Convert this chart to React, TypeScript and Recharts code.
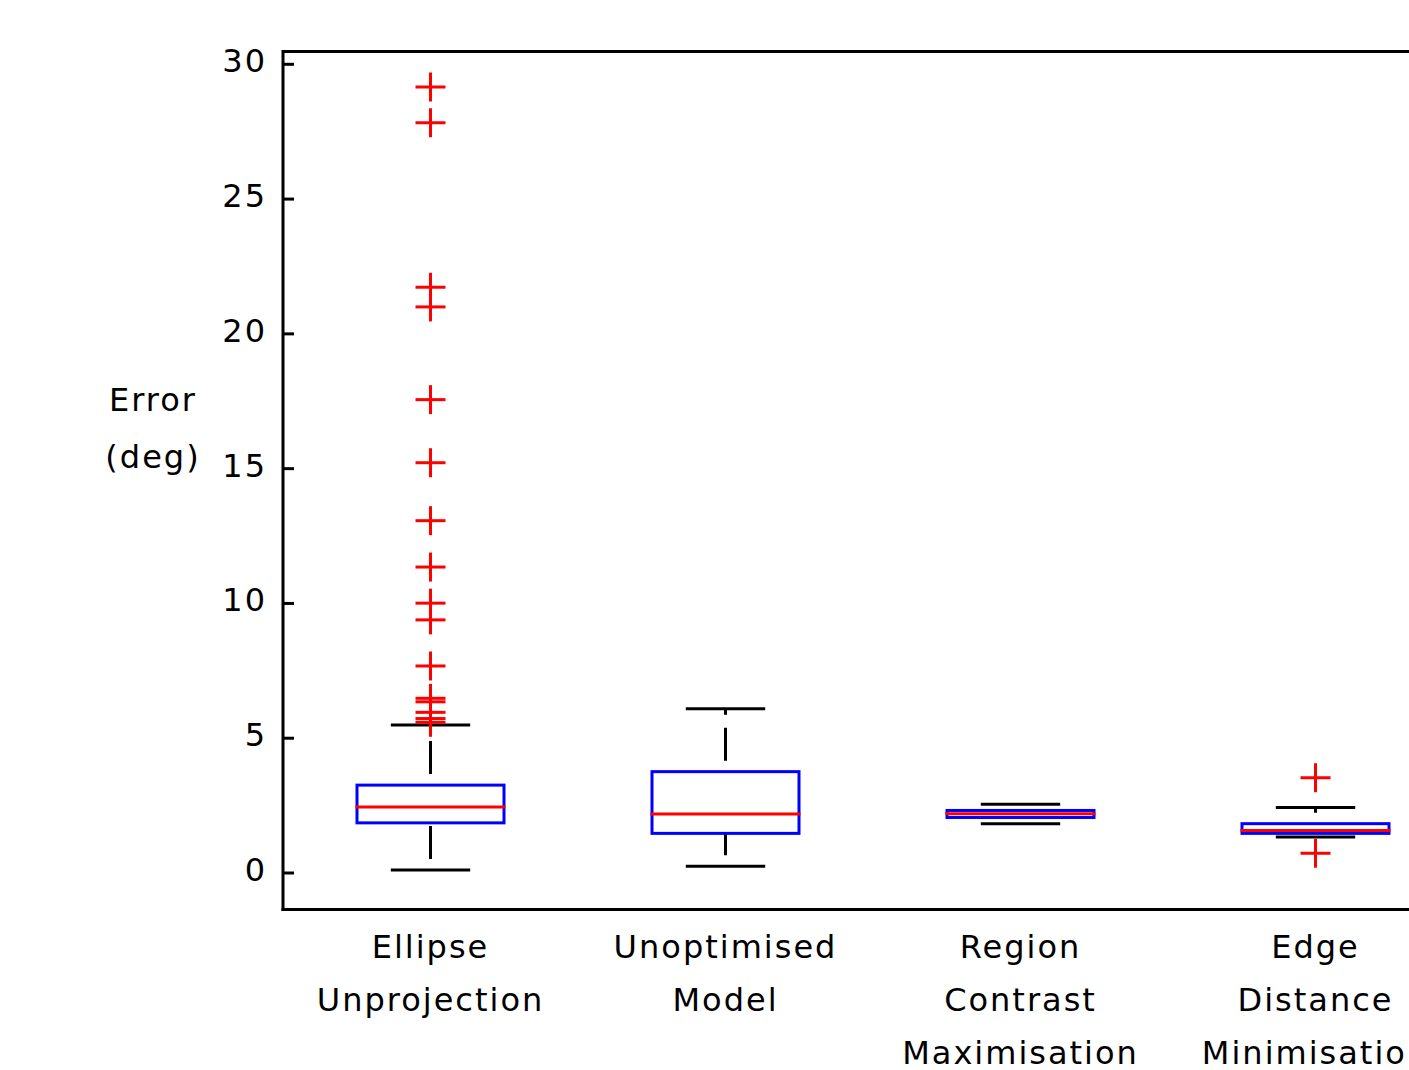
import React from 'react';
import {
    ComposedChart,
    Bar,
    Scatter,
    XAxis,
    YAxis,
    Label,
    ReferenceLine
} from 'recharts';

// categories, one entry per box
const categories = [
    'Ellipse Unprojection',
    'Unoptimised Model',
    'Region Contrast Maximisation',
    'Edge Distance Minimisation'
];
const categoryLines = [
    ['Ellipse', 'Unprojection'],
    ['Unoptimised', 'Model'],
    ['Region', 'Contrast', 'Maximisation'],
    ['Edge', 'Distance', 'Minimisation']
];

// box statistics (deg)
const lowerWhisker = [0.11, 0.25, 1.83, 1.34];
const lowerQuartile = [1.86, 1.47, 2.06, 1.47];
const medians = [2.45, 2.19, 2.2, 1.58];
const upperQuartile = [3.26, 3.76, 2.32, 1.83];
const upperWhisker = [5.49, 6.09, 2.55, 2.43];

// outliers per category
const outliers = [
    [29.16, 27.83, 21.73, 21.0, 17.56, 15.22, 13.07, 11.35, 10.01, 9.39, 7.68, 6.48, 6.35, 5.96, 5.73, 5.59],
    [],
    [],
    [3.53, 0.73]
];

const yTicks = [0, 5, 10, 15, 20, 25, 30];
const yDomain = [-1.354, 30.475];

const boxData = categories.map((name, i) => ({
    name,
    range: [lowerWhisker[i], upperWhisker[i]],
    lw: lowerWhisker[i],
    q1: lowerQuartile[i],
    med: medians[i],
    q3: upperQuartile[i],
    uw: upperWhisker[i]
}));

const outlierData = categories.flatMap((name, i) =>
    outliers[i].map(value => ({ name, value }))
);

const FONT = '"DejaVu Sans", sans-serif';
const FONT_SIZE = 32;

const BoxShape = (props: any) => {
    const { x, y, width, height, payload } = props;
    const top = Math.min(y, y + height);
    const bottom = Math.max(y, y + height);
    const { lw, q1, med, q3, uw } = payload;
    // value -> pixel, from the bar the library placed for [lw, uw]
    const py = (v: number) => (uw === lw ? top : top + ((uw - v) / (uw - lw)) * (bottom - top));
    const cx = x + width / 2;
    const capHalf = width * 0.27;
    return (
        <g>
            {/* dashed whiskers, both drawn upwards */}
            <line x1={cx} x2={cx} y1={py(q3)} y2={py(uw)} stroke="#000" strokeWidth={3}
                strokeDasharray="33 13" strokeDashoffset={35} />
            <line x1={cx} x2={cx} y1={py(lw)} y2={py(q1)} stroke="#000" strokeWidth={3}
                strokeDasharray="33 13" strokeDashoffset={35} />
            <line x1={cx - capHalf} x2={cx + capHalf} y1={py(uw)} y2={py(uw)} stroke="#000" strokeWidth={3} />
            <line x1={cx - capHalf} x2={cx + capHalf} y1={py(lw)} y2={py(lw)} stroke="#000" strokeWidth={3} />
            <rect x={x} y={py(q3)} width={width} height={py(q1) - py(q3)} fill="none" stroke="#0000FF" strokeWidth={3} />
            <line x1={x - 1.5} x2={x + width + 1.5} y1={py(med)} y2={py(med)} stroke="#FF0000" strokeWidth={3} />
        </g>
    );
};

const PlusShape = (props: any) => {
    const { cx, cy } = props;
    return (
        <g>
            <line x1={cx - 15} x2={cx + 15} y1={cy} y2={cy} stroke="#FF0000" strokeWidth={3} />
            <line x1={cx} x2={cx} y1={cy - 14.5} y2={cy + 14.5} stroke="#FF0000" strokeWidth={3} />
        </g>
    );
};

const YTick = (props: any) => {
    const { x, y, payload } = props;
    return (
        <g>
            <line x1={x} x2={x + 11} y1={y} y2={y} stroke="#000" strokeWidth={3} />
            <text x={x - 16} y={y + 8} textAnchor="end" fontFamily={FONT} fontSize={FONT_SIZE}
                letterSpacing={2} fill="#000">
                {payload.value}
            </text>
        </g>
    );
};

const XTick = (props: any) => {
    const { x, y, index } = props;
    const lines = categoryLines[index] || [];
    return (
        <text x={x} y={y} textAnchor="middle" fontFamily={FONT} fontSize={FONT_SIZE}
            letterSpacing={2} fill="#000">
            {lines.map((line, i) => (
                <tspan key={i} x={x} y={y + 48.5 + i * 53}>{line}</tspan>
            ))}
        </text>
    );
};

const YLabel = (props: any) => {
    const { viewBox } = props;
    const cx = viewBox.x + viewBox.width - 130;
    return (
        <text textAnchor="middle" fontFamily={FONT} fontSize={FONT_SIZE} letterSpacing={2} fill="#000">
            <tspan x={cx} y={viewBox.y + 359.5}>Error</tspan>
            <tspan x={cx} y={viewBox.y + 416.5}>(deg)</tspan>
        </text>
    );
};

const axisLine = { stroke: '#000', strokeWidth: 3, strokeLinecap: 'square' as const };

export default function App() {
    return (
        <div style={{
            position: 'absolute', left: 0, top: 0, width: 1409, height: 1070,
            overflow: 'hidden', background: '#fff'
        }}>
            <ComposedChart
                width={1463}
                height={1100}
                data={boxData}
                margin={{ top: 51.5, right: 0, left: 0, bottom: 0 }}
            >
                <XAxis
                    dataKey="name"
                    allowDuplicatedCategory={false}
                    height={190.5}
                    tickSize={0}
                    tickMargin={0}
                    tickLine={false}
                    interval={0}
                    tick={<XTick />}
                    axisLine={axisLine}
                />
                <YAxis
                    type="number"
                    domain={yDomain}
                    allowDataOverflow
                    ticks={yTicks}
                    interval={0}
                    width={283}
                    tickSize={0}
                    tickMargin={0}
                    tickLine={false}
                    tick={<YTick />}
                    axisLine={axisLine}
                >
                    <Label content={<YLabel />} />
                </YAxis>
                {/* top frame line */}
                <ReferenceLine y={yDomain[1]} stroke="#000" strokeWidth={3} ifOverflow="extendDomain" />
                <Bar
                    dataKey="range"
                    barSize={147}
                    shape={<BoxShape />}
                    isAnimationActive={false}
                />
                <Scatter
                    data={outlierData}
                    dataKey="value"
                    shape={<PlusShape />}
                    isAnimationActive={false}
                />
            </ComposedChart>
        </div>
    );
}
